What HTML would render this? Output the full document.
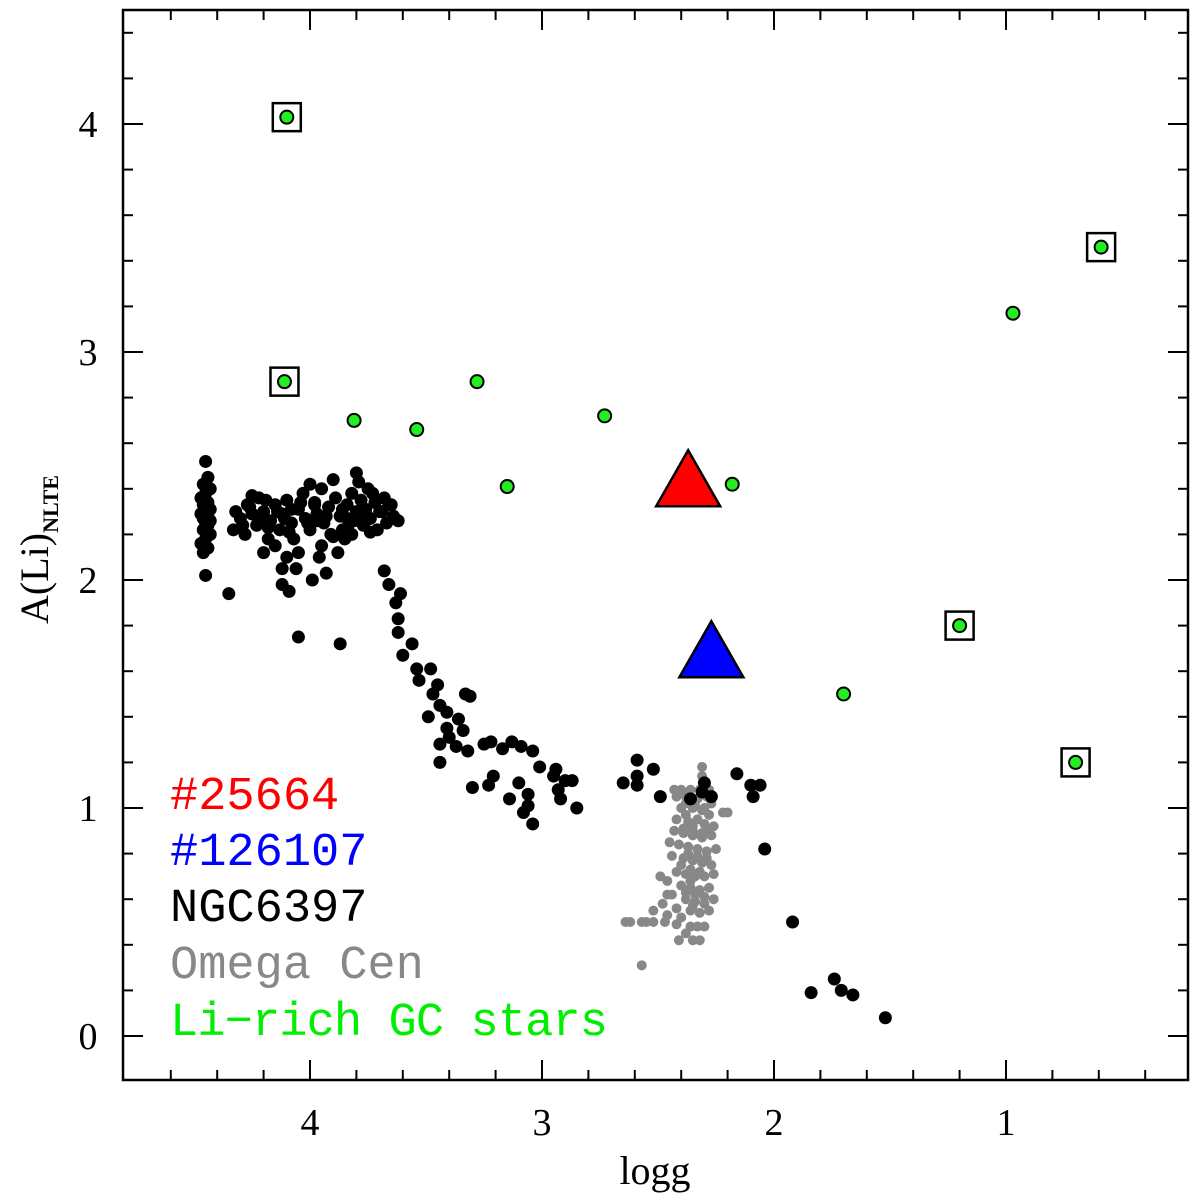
<!DOCTYPE html>
<html><head><meta charset="utf-8"><style>
body{margin:0;background:#fff}
svg{display:block}
text{font-family:"Liberation Serif",serif}
.leg{font-family:"Liberation Mono",monospace;font-size:47px}
</style></head><body>
<svg id="chart" width="1200" height="1202" viewBox="0 0 1200 1202">
<g id="marks"></g>
<g id="axes"></g>
<text class="leg" x="170" y="809" fill="#ff0000">#25664</text>
<text class="leg" x="170" y="865" fill="#0000ff">#126107</text>
<text class="leg" x="170" y="921" fill="#000">NGC6397</text>
<text class="leg" x="170" y="978" fill="#888">Omega Cen</text>
<text class="leg" x="170" y="1035" fill="#00ee00" textLength="438">Li−rich GC stars</text>
<text x="655" y="1184" font-size="40" text-anchor="middle">logg</text>
<text transform="translate(48,624) rotate(-90)" font-size="40">A(Li)<tspan font-size="22" font-weight="bold" dy="10">NLTE</tspan></text>
</svg>
<script>
const xTicks=[4,3,2,1];
const yTicks=[0,1,2,3,4];
const ngcLogg=[4.45,4.44,4.46,4.43,4.45,4.47,4.44,4.46,4.43,4.45,4.47,4.44,4.46,4.43,4.45,4.44,4.46,4.43,4.45,4.47,4.44,4.46,4.45,
4.30,4.28,4.27,4.25,4.23,4.22,4.20,4.18,4.17,4.15,4.13,4.12,4.10,4.08,4.07,4.05,4.03,4.02,4.00,3.98,3.97,3.95,3.94,3.92,3.90,3.89,3.87,3.86,3.84,3.82,3.81,3.80,3.79,3.78,3.77,3.76,3.75,3.74,3.72,3.71,3.70,3.68,3.67,3.65,3.64,3.62,4.25,4.15,4.05,3.95,3.85,3.80,3.82,4.10,4.00,3.90,4.20,3.96,3.88,4.33,4.32,4.06,3.99,4.12,3.93,
4.29,4.21,4.14,4.09,4.01,3.93,3.86,3.78,3.73,3.69,4.26,4.18,4.11,4.04,3.97,3.91,3.83,3.76,3.66,4.19,4.08,3.98,3.84,3.74,
4.35,4.05,3.87,4.09,4.12,
3.68,3.66,3.61,3.63,3.62,3.62,3.56,3.60,3.54,3.48,3.53,3.45,3.47,3.44,3.33,3.31,3.49,3.41,3.36,3.34,3.41,3.40,3.37,3.44,3.32,3.25,3.22,3.17,3.13,3.09,3.04,3.44,3.21,3.10,3.01,2.94,2.95,2.90,2.87,2.93,2.92,2.85,3.06,3.06,3.14,3.04,3.08,3.30,3.23,
2.65,2.59,2.59,2.52,2.59,2.49,2.16,2.10,2.06,2.09,2.30,2.31,2.27,2.36,
2.04,1.92,1.84,1.74,1.71,1.66,1.52];
const ngcA=[2.52,2.45,2.42,2.40,2.38,2.36,2.34,2.33,2.31,2.30,2.29,2.28,2.27,2.26,2.25,2.24,2.22,2.20,2.18,2.16,2.14,2.12,2.02,
2.27,2.20,2.33,2.29,2.24,2.36,2.30,2.18,2.26,2.33,2.22,2.29,2.35,2.25,2.18,2.31,2.38,2.27,2.22,2.34,2.29,2.40,2.25,2.32,2.19,2.36,2.28,2.22,2.33,2.38,2.26,2.30,2.43,2.35,2.24,2.31,2.40,2.27,2.34,2.22,2.30,2.36,2.25,2.33,2.28,2.26,2.37,2.15,2.12,2.15,2.18,2.47,2.20,2.10,2.42,2.44,2.12,2.10,2.12,2.22,2.30,2.05,2.00,1.98,2.03,
2.24,2.27,2.30,2.21,2.25,2.28,2.31,2.27,2.38,2.30,2.32,2.23,2.27,2.34,2.26,2.20,2.25,2.29,2.33,2.35,2.31,2.33,2.27,2.21,
1.94,1.75,1.72,1.95,2.05,
2.04,1.98,1.94,1.90,1.83,1.77,1.72,1.67,1.61,1.61,1.56,1.54,1.50,1.45,1.50,1.49,1.40,1.42,1.39,1.34,1.35,1.31,1.27,1.28,1.25,1.28,1.29,1.26,1.29,1.27,1.25,1.20,1.14,1.11,1.18,1.17,1.14,1.12,1.12,1.08,1.04,1.00,1.06,1.01,1.04,0.93,0.98,1.09,1.10,
1.11,1.21,1.14,1.17,1.10,1.05,1.15,1.10,1.10,1.05,1.11,1.07,1.05,1.04,
0.82,0.50,0.19,0.25,0.20,0.18,0.08];
const omegaLogg=[2.40,2.36,2.32,2.28,2.42,2.38,2.33,2.29,2.27,2.40,2.35,2.31,2.28,2.42,2.37,2.33,2.30,2.26,2.43,2.39,2.35,2.31,2.27,2.41,2.37,2.33,2.29,2.25,2.44,2.39,2.35,2.31,2.27,2.42,2.38,2.34,2.30,2.26,2.46,2.40,2.36,2.32,2.28,2.44,2.38,2.34,2.30,2.26,2.48,2.42,2.36,2.32,2.28,2.52,2.46,2.40,2.64,2.62,2.57,2.55,2.52,2.47,2.42,2.36,2.33,2.30,2.38,2.41,2.35,2.32,2.57,2.31,2.31,2.22,2.20,2.49,2.46,2.38,2.35,2.40,2.45,2.43,2.29,2.33,2.36,
2.38,2.34,2.30,2.39,2.35,2.31,2.37,2.33,2.29,2.36,2.32,2.38,2.34,2.30,2.35];
const omegaA=[1.08,1.08,1.08,1.08,1.05,1.05,1.04,1.05,1.02,1.00,1.00,0.99,0.97,0.95,0.94,0.95,0.93,0.92,0.90,0.89,0.88,0.87,0.88,0.84,0.83,0.82,0.81,0.82,0.79,0.78,0.77,0.76,0.75,0.72,0.71,0.70,0.70,0.71,0.68,0.66,0.65,0.64,0.65,0.62,0.60,0.59,0.58,0.60,0.58,0.56,0.55,0.54,0.55,0.55,0.53,0.52,0.50,0.50,0.50,0.50,0.50,0.50,0.49,0.48,0.48,0.48,0.45,0.42,0.42,0.42,0.31,1.18,1.14,0.98,0.98,0.70,0.62,0.97,0.92,0.75,0.85,1.08,0.90,0.78,0.68,
1.02,1.01,1.00,0.91,0.90,0.89,0.80,0.79,0.78,0.73,0.72,0.63,0.62,0.61,0.57];
const liLogg=[4.10,4.11,3.81,3.54,3.28,3.15,2.73,2.18,0.97,0.59,1.20,1.70,0.70];
const liA=[4.03,2.87,2.70,2.66,2.87,2.41,2.72,2.42,3.17,3.46,1.80,1.50,1.20];
const liBoxed=[1,1,0,0,0,0,0,0,0,1,1,0,1];
const starNames=["star-25664","star-126107"];
const starLogg=[2.37,2.27];
const starA=[2.42,1.67];
const starColors=["#ff0000","#0000ff"];

const L=123,R=1188,T=10,B=1080;
function xs(g){return 310+(4-g)*232;}
function ys(a){return 1036-a*228;}
const NS="http://www.w3.org/2000/svg";
const marks=document.getElementById('marks'),axes=document.getElementById('axes');
function mk(tag,at,parent){const e=document.createElementNS(NS,tag);for(const k in at)e.setAttribute(k,at[k]);parent.appendChild(e);return e;}

const gGray=mk('g',{},marks);


omegaLogg.forEach((g,i)=>{const c=mk('circle',{cx:xs(g),cy:ys(omegaA[i]),r:5,fill:'#888'},gGray);

});
const gBlk=mk('g',{},marks);


ngcLogg.forEach((g,i)=>{const c=mk('circle',{cx:xs(g),cy:ys(ngcA[i]),r:6.5,fill:'#000'},gBlk);

});
const gLi=mk('g',{},marks);


liLogg.forEach((g,i)=>{const x=xs(g),y=ys(liA[i]);
if(liBoxed[i]){const b=mk('rect',{x:x-14,y:y-14,width:28,height:28,fill:'none',stroke:'#000','stroke-width':2.5},gLi);

}
const c=mk('circle',{cx:x,cy:y,r:6.5,fill:'#22ee22',stroke:'#000','stroke-width':2},gLi);

});
starLogg.forEach((g,i)=>{const x=xs(g),y=ys(starA[i]);
const p=mk('polygon',{points:`${x},${y-34} ${x-32},${y+22} ${x+32},${y+22}`,fill:starColors[i],stroke:'#000','stroke-width':2.5,'stroke-linejoin':'miter'},marks);

});

const fr=mk('rect',{x:L,y:T,width:R-L,height:B-T,fill:'none',stroke:'#000','stroke-width':2.5},axes);


for(let k=2;k<=48;k++){const g=k/10;if(Math.abs(g*5-Math.round(g*5))>1e-6)continue;const x=xs(g);if(x<L+2||x>R-2)continue;
const maj=Math.abs(g-Math.round(g))<1e-6;const len=maj?20:10;
mk('line',{x1:x,y1:B,x2:x,y2:B-len,stroke:'#000','stroke-width':2},axes);
mk('line',{x1:x,y1:T,x2:x,y2:T+len,stroke:'#000','stroke-width':2},axes);}
for(let k=-1;k<=23;k++){const a=k/5;const y=ys(a);if(y<T+2||y>B-2)continue;
const maj=k%5===0;const len=maj?20:10;
mk('line',{x1:L,y1:y,x2:L+len,y2:y,stroke:'#000','stroke-width':2},axes);
mk('line',{x1:R,y1:y,x2:R-len,y2:y,stroke:'#000','stroke-width':2},axes);}
xTicks.forEach(g=>{const t=mk('text',{x:xs(g),y:1135,'font-size':38,'text-anchor':'middle'},axes);t.textContent=g;

});
yTicks.forEach(a=>{const t=mk('text',{x:88,y:ys(a)+13,'font-size':38,'text-anchor':'middle'},axes);t.textContent=a;

});
</script>
</body></html>
